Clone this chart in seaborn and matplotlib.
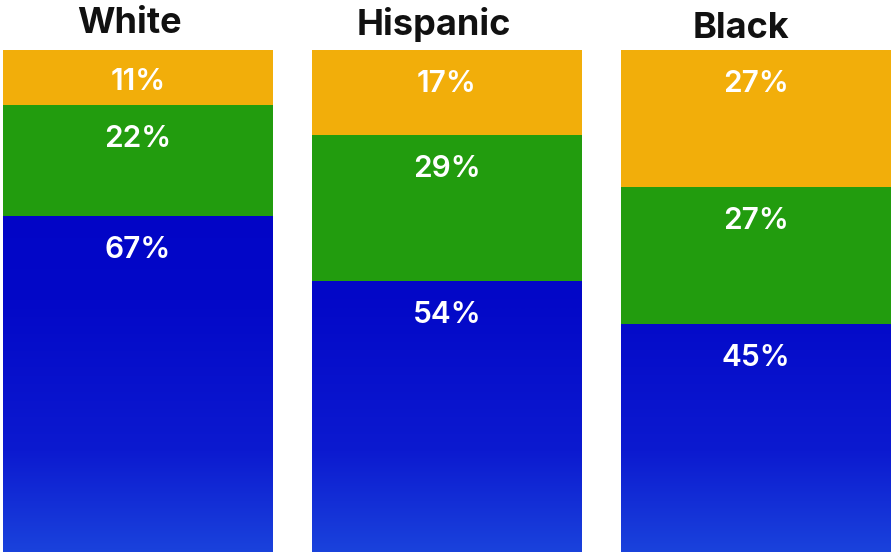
import matplotlib
matplotlib.use("Agg")
import matplotlib.pyplot as plt
import seaborn as sns
import numpy as np
import pandas as pd
from matplotlib.colors import LinearSegmentedColormap

groups = ["White", "Hispanic", "Black"]
blue_vals = [67, 54, 45]
green_vals = [22, 29, 27]
orange_vals = [11, 17, 27]

sns.set_theme(style="white")
plt.rcParams['font.family'] = ['Inter', 'DejaVu Sans']

fig = plt.figure(figsize=(8.91, 5.52), dpi=100)
ax = fig.add_axes([0, 0, 1, 502 / 552])

totals = np.array(blue_vals) + np.array(green_vals) + np.array(orange_vals)
b_n = np.array(blue_vals) / totals * 100
g_n = np.array(green_vals) / totals * 100
o_n = np.array(orange_vals) / totals * 100

df = pd.DataFrame({"group": groups, "blue": b_n, "green": g_n, "orange": o_n})
width = 0.873
sns.barplot(data=df, x="group", y="blue", color="#0206c8", width=width, ax=ax,
            saturation=1, linewidth=0)
n_blue = len(ax.patches)
sns.barplot(data=df, x="group", y="green", color="#229c0e", width=width, ax=ax,
            saturation=1, linewidth=0, bottom=b_n)
sns.barplot(data=df, x="group", y="orange", color="#f2ae0a", width=width, ax=ax,
            saturation=1, linewidth=0, bottom=b_n + g_n)

xlim = (-138 / 309, (891 - 138) / 309)

# vertical gradient over the blue bars (shared across the figure height)
cmap = LinearSegmentedColormap.from_list(
    "bg", [(0.0, "#1a42dc"), (0.2, "#0c1ad0"), (0.5, "#0308c8"), (1.0, "#0000c4")])
grad = np.linspace(1, 0, 256).reshape(-1, 1)
for p in ax.patches[:n_blue]:
    x0, w = p.get_x(), p.get_width()
    im = ax.imshow(grad, cmap=cmap, aspect="auto", extent=[x0, x0 + w, 0, 100],
                   origin="upper", zorder=p.get_zorder() + 0.1, vmin=0, vmax=1,
                   interpolation="bilinear")
    im.set_clip_path(p)
ax.set_xlim(*xlim)
ax.set_ylim(0, 100)

px = 502 / 100
for i in range(3):
    segs = [(0, b_n[i], blue_vals[i]), (b_n[i], g_n[i], green_vals[i]),
            (b_n[i] + g_n[i], o_n[i], orange_vals[i])]
    for b, h, v in segs:
        top = b + h
        off = min(34 / px, h / 2 + 0.9)
        ax.text(i, top - off, f"{v}%", ha="center", va="center", color="white",
                fontsize=21.5, fontweight="semibold", zorder=10)

title_base = [17, 15, 12]
title_dx = [-9, -13, -15]
for i, g in enumerate(groups):
    ax.annotate(g, xy=(i, 100), xycoords="data", xytext=(title_dx[i], title_base[i]),
                textcoords="offset pixels", ha="center", va="baseline",
                fontsize=26, fontweight="bold", color="#111111",
                annotation_clip=False)

ax.set_xlabel("")
ax.set_ylabel("")
ax.set_xticks([])
ax.set_yticks([])
for s in ax.spines.values():
    s.set_visible(False)

fig.savefig("out.png", dpi=100)
